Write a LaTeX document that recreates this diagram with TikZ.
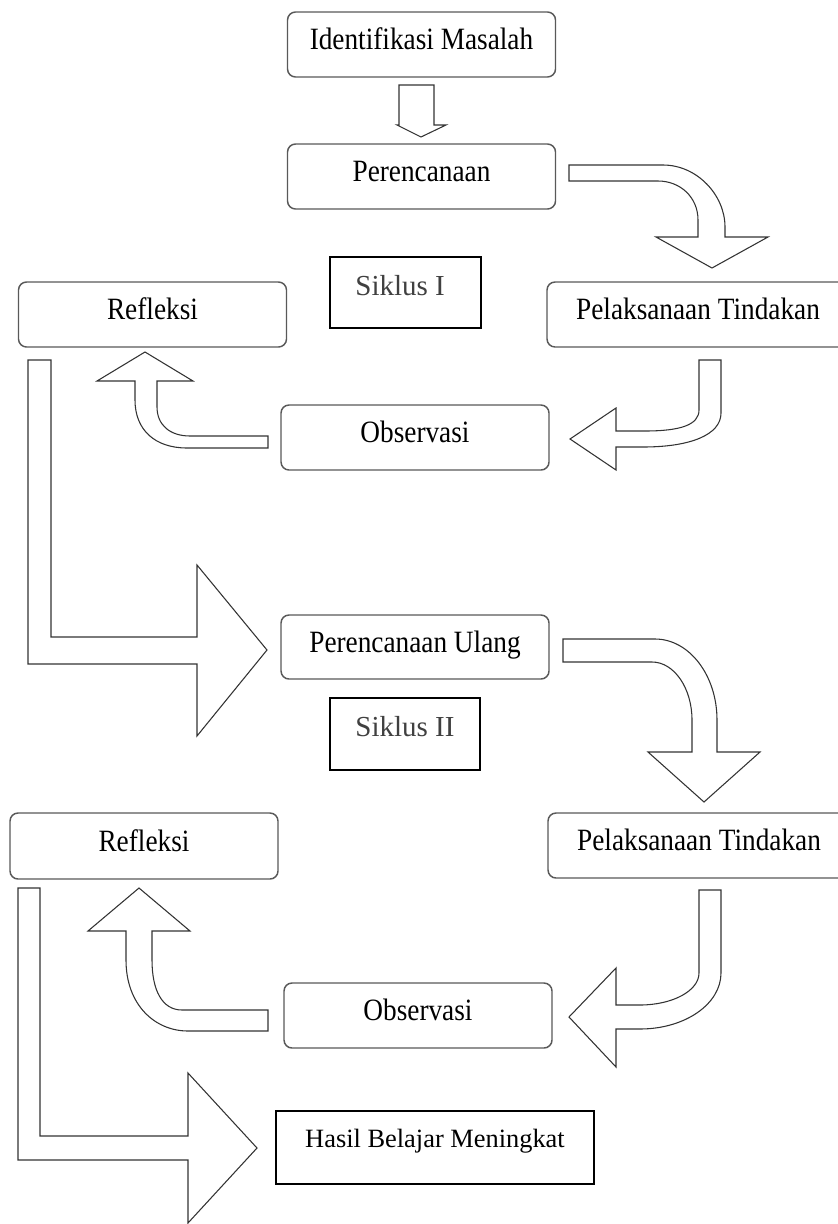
\documentclass[tikz,border=0pt]{standalone}
\usepackage{fontspec}
\setmainfont{Liberation Serif}
\newfontfamily\boxfont[FakeStretch=0.88]{Liberation Serif}
\begin{document}
\begin{tikzpicture}[x=0.75pt,y=-0.75pt,
  rbox/.style={draw=black!65, line width=1.1pt, rounded corners=6pt, fill=white,
    minimum width=201pt, minimum height=48.75pt, inner sep=0pt, outer sep=0pt},
  widebox/.style={minimum width=226.5pt},
  sbox/.style={draw=black, line width=1.1pt, fill=white, inner sep=0pt, outer sep=0pt},
  rtext/.style={font=\boxfont\fontsize{23.25pt}{28pt}\selectfont, inner sep=0pt,
    text height=15.4pt, text depth=0pt, yshift=3.75pt},
  stext/.style={font=\fontsize{21.75pt}{26pt}\selectfont, text=black!75, inner sep=0pt,
    text height=14.4pt, text depth=0pt, yshift=5.25pt},
  htext/.style={font=\fontsize{19.8pt}{24pt}\selectfont, inner sep=0pt,
    text height=13.1pt, text depth=0pt, yshift=6.75pt},
  barrow/.style={draw=black!80, line width=0.8pt, fill=white, line join=miter}]
\useasboundingbox (0,0) rectangle (838,1224);
\clip (0,0) rectangle (838,1224);

% boxes
\node[rbox, label={[rtext]center:Identifikasi Masalah}] (ident) at (421.5,44.5) {};
\node[rbox, label={[rtext]center:Perencanaan}] (plan) at (421.5,176.5) {};
\node[rbox, label={[rtext]center:Refleksi}] (refl1) at (152.5,314.5) {};
\node[rbox, widebox, label={[rtext]center:Pelaksanaan Tindakan}] (pel1) at (698,314.5) {};
\node[rbox, label={[rtext]center:Observasi}] (obs1) at (415,437.5) {};
\node[sbox, minimum width=113.25pt, minimum height=53.25pt,
  label={[stext, xshift=-4pt]center:Siklus I}] (sik1) at (405.5,292.5) {};
\node[rbox, minimum height=48pt, label={[rtext]center:Perencanaan Ulang}] (planU) at (415,647) {};
\node[sbox, minimum width=112.5pt, minimum height=54pt,
  label={[stext]center:Siklus II}] (sik2) at (405,734) {};
\node[rbox, minimum height=49.5pt, label={[rtext]center:Refleksi}] (refl2) at (144,846) {};
\node[rbox, widebox, label={[rtext]center:Pelaksanaan Tindakan}] (pel2) at (699,845.5) {};
\node[rbox, label={[rtext]center:Observasi}] (obs2) at (418,1015.5) {};
\node[sbox, minimum width=238.5pt, minimum height=54.75pt,
  label={[htext]center:Hasil Belajar Meningkat}] (hasil) at (435,1147.5) {};

% block arrows
\draw[barrow] (399,85) -- (434,85) -- (434,125) -- (446,125) -- (421,137) -- (397,125) -- (399,125) -- cycle;

\draw[barrow] (569,165) -- (663,165) .. controls (697,165) and (725,195) .. (725,227) -- (725,237)
  -- (768,237) -- (712,268) -- (656,237) -- (698,237) -- (698,220)
  .. controls (698,197) and (680,181) .. (658,181) -- (569,181) -- cycle;

\draw[barrow] (699,360) -- (721,360) -- (721,413) .. controls (721,435) and (690,447) .. (643,447)
  -- (616,447) -- (616,470) -- (570,439) -- (616,408) -- (616,431) -- (645,431)
  .. controls (680,431) and (699,425) .. (699,410) -- cycle;

\draw[barrow] (268,436) -- (190,436) .. controls (170,436) and (157,425) .. (157,407) -- (157,381)
  -- (193,381) -- (145,352) -- (97,381) -- (135,381) -- (135,400)
  .. controls (135,430) and (155,448) .. (187,448) -- (268,448) -- cycle;

\draw[barrow] (28,360) -- (51,360) -- (51,637) -- (197,637) -- (197,565) -- (267,650)
  -- (197,736) -- (197,664) -- (28,664) -- cycle;

\draw[barrow] (563,639) -- (655,639) .. controls (689,639) and (717,675) .. (717,720) -- (717,752)
  -- (760,752) -- (704,802) -- (648,752) -- (692,752) -- (692,720)
  .. controls (692,688) and (674,662) .. (652,662) -- (563,662) -- cycle;

\draw[barrow] (699,890) -- (721,890) -- (721,973) .. controls (721,1004) and (685,1029) .. (640,1029)
  -- (616,1029) -- (616,1067) -- (569,1017) -- (616,968) -- (616,1005) -- (640,1005)
  .. controls (672,1005) and (699,991) .. (699,973) -- cycle;

\draw[barrow] (268,1010) -- (182,1010) .. controls (162,1010) and (152,990) .. (152,960) -- (152,931)
  -- (190,931) -- (139,888) -- (88,931) -- (126,931) -- (126,960)
  .. controls (126,1005) and (155,1031) .. (188,1031) -- (268,1031) -- cycle;

\draw[barrow] (18,888) -- (40,888) -- (40,1136) -- (188,1136) -- (188,1073) -- (257,1148)
  -- (188,1223) -- (188,1160) -- (18,1160) -- cycle;
\end{tikzpicture}
\end{document}
